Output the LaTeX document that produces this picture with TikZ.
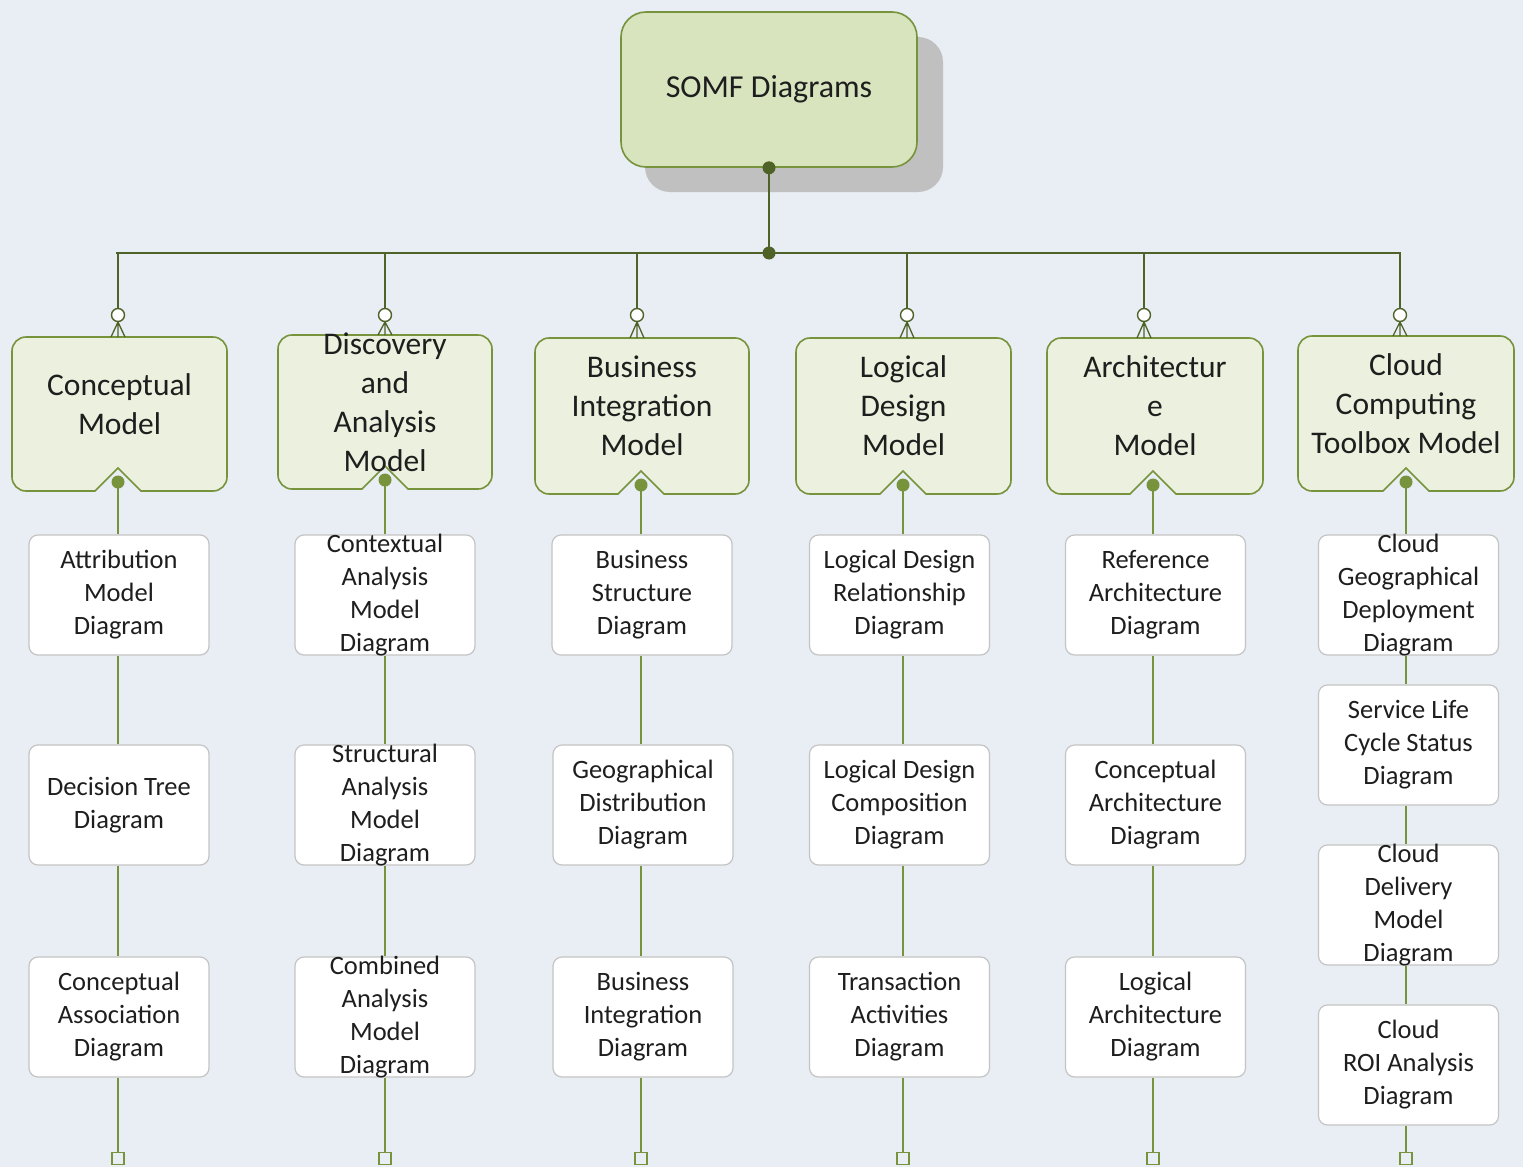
\documentclass[tikz,border=0pt]{standalone}
\usepackage{fontspec}
\setmainfont{Carlito}
\usetikzlibrary{calc}
\definecolor{bg}{HTML}{E9EDF4}
\definecolor{topfill}{HTML}{D7E4BD}
\definecolor{mfill}{HTML}{EBF1DE}
\definecolor{mgreen}{HTML}{77933C}
\definecolor{dkgreen}{HTML}{4F6228}
\definecolor{shadowc}{HTML}{C0C0C0}
\definecolor{dgray}{HTML}{C4C4C4}
\definecolor{txt}{HTML}{1E1E1E}
\newcommand\ModelBox[8]{%
  \path[mshape] (#7,#5-23) -- (#7-23,#5) [rounded corners=14pt] -- (#2,#5) -- (#2,#3) -- (#4,#3) -- (#4,#5) [sharp corners] -- (#7+23,#5) -- cycle;
  \node[mtext] (#1) at ({(#2+#4)/2},{(#3+#5)/2-10}) {#8};
  \coordinate (#1bar) at (#6,253);
  \coordinate (#1circ) at (#6,315);
  \coordinate (#1foot) at (#6,322);
  \coordinate (#1top) at (#6,#3);
  \coordinate (#1dot) at (#7,#5-9);
  \draw[topline] (#1bar) -- ($(#1circ)+(0,-6.5)$);
  \draw[topline,line width=1.3pt] (#1foot) -- ($(#1top)+(-7,0)$) (#1foot) -- (#1top) (#1foot) -- ($(#1top)+(7,0)$);
  \draw[topline,line width=1.4pt,fill=white] (#1circ) circle (6.5pt);
  \fill[mgreen] (#1dot) circle (6.5pt);
}
\begin{document}
\begin{tikzpicture}[x=1pt,y=-1pt,
  tx/.style={text=txt, align=center, inner sep=0pt},
  dbox/.style={draw=dgray, fill=white, rounded corners=9pt, minimum width=180pt, minimum height=120pt, line width=1.2pt, inner sep=0pt},
  dtext/.style={tx, font=\fontsize{26.5}{33}\selectfont},
  mtext/.style={tx, font=\fontsize{31.5}{39}\selectfont},
  mshape/.style={draw=mgreen, fill=mfill, line width=1.6pt},
  topline/.style={draw=dkgreen, line width=2pt},
  lowline/.style={draw=mgreen, line width=1.7pt},
  endsq/.style={draw=mgreen, fill=bg, minimum size=12pt, inner sep=0pt, line width=1.4pt},
]
\useasboundingbox[fill=bg] (0,0) rectangle (1523,1167);

% root
\fill[shadowc, rounded corners=25pt] (645,37) rectangle (943,192);
\node[draw=mgreen, fill=topfill, rounded corners=25pt, minimum width=296pt, minimum height=155pt, line width=1.6pt, font=\fontsize{32}{39}\selectfont, text=txt] (somf) at (769,89.5) {SOMF Diagrams};
\coordinate (hub) at (769,253);
\coordinate (barL) at (116,253);
\coordinate (barR) at (1401,253);
\draw[topline] (somf.south) -- (hub);
\draw[topline] (barL) -- (barR);
\fill[dkgreen] (somf.south) circle (6.5pt);
\fill[dkgreen] (hub) circle (6.5pt);

% model boxes
\ModelBox{m1}{12}{337}{227}{491}{118}{118}{Conceptual\\Model}
\ModelBox{m2}{278}{335}{492}{489}{385}{385}{Discovery\\and\\Analysis\\Model}
\ModelBox{m3}{535}{338}{749}{494}{637}{641}{Business\\Integration\\Model}
\ModelBox{m4}{796}{338}{1011}{494}{907}{903}{Logical\\Design\\Model}
\ModelBox{m5}{1047}{338}{1263}{494}{1144}{1153}{Architectur\\e\\Model}
\ModelBox{m6}{1298}{336}{1514}{491}{1400}{1406}{Cloud\\Computing\\Toolbox Model}

% column 1
\node[dbox] (c1a) at (119,595) {};
\node[dbox] (c1b) at (119,805) {};
\node[dbox] (c1c) at (119,1017) {};
\node[endsq] (s1) at (118,1158.5) {};
\draw[lowline] (m1dot) -- (m1dot |- c1a.north);
\draw[lowline] (m1dot |- c1a.south) -- (m1dot |- c1b.north);
\draw[lowline] (m1dot |- c1b.south) -- (m1dot |- c1c.north);
\draw[lowline] (m1dot |- c1c.south) -- (s1.north);
\node[dtext] (t1a) at (c1a) {Attribution\\Model\\Diagram};
\node[dtext] (t1b) at (c1b) {Decision Tree\\Diagram};
\node[dtext] (t1c) at (c1c) {Conceptual\\Association\\Diagram};

% column 2
\node[dbox] (c2a) at (385,595) {};
\node[dbox] (c2b) at (385,805) {};
\node[dbox] (c2c) at (385,1017) {};
\node[endsq] (s2) at (385,1158.5) {};
\draw[lowline] (m2dot) -- (m2dot |- c2a.north);
\draw[lowline] (m2dot |- c2a.south) -- (m2dot |- c2b.north);
\draw[lowline] (m2dot |- c2b.south) -- (m2dot |- c2c.north);
\draw[lowline] (m2dot |- c2c.south) -- (s2.north);
\node[dtext] (t2a) at (c2a) {Contextual\\Analysis\\Model\\Diagram};
\node[dtext] (t2b) at (c2b) {Structural\\Analysis\\Model\\Diagram};
\node[dtext] (t2c) at (c2c) {Combined\\Analysis\\Model\\Diagram};

% column 3
\node[dbox] (c3a) at (642,595) {};
\node[dbox] (c3b) at (643,805) {};
\node[dbox] (c3c) at (643,1017) {};
\node[endsq] (s3) at (641,1158.5) {};
\draw[lowline] (m3dot) -- (m3dot |- c3a.north);
\draw[lowline] (m3dot |- c3a.south) -- (m3dot |- c3b.north);
\draw[lowline] (m3dot |- c3b.south) -- (m3dot |- c3c.north);
\draw[lowline] (m3dot |- c3c.south) -- (s3.north);
\node[dtext] (t3a) at (c3a) {Business\\Structure\\Diagram};
\node[dtext] (t3b) at (c3b) {Geographical\\Distribution\\Diagram};
\node[dtext] (t3c) at (c3c) {Business\\Integration\\Diagram};

% column 4
\node[dbox] (c4a) at (899.5,595) {};
\node[dbox] (c4b) at (899.5,805) {};
\node[dbox] (c4c) at (899.5,1017) {};
\node[endsq] (s4) at (903,1158.5) {};
\draw[lowline] (m4dot) -- (m4dot |- c4a.north);
\draw[lowline] (m4dot |- c4a.south) -- (m4dot |- c4b.north);
\draw[lowline] (m4dot |- c4b.south) -- (m4dot |- c4c.north);
\draw[lowline] (m4dot |- c4c.south) -- (s4.north);
\node[dtext] (t4a) at (c4a) {Logical Design\\Relationship\\Diagram};
\node[dtext] (t4b) at (c4b) {Logical Design\\Composition\\Diagram};
\node[dtext] (t4c) at (c4c) {Transaction\\Activities\\Diagram};

% column 5
\node[dbox] (c5a) at (1155.5,595) {};
\node[dbox] (c5b) at (1155.5,805) {};
\node[dbox] (c5c) at (1155.5,1017) {};
\node[endsq] (s5) at (1153,1158.5) {};
\draw[lowline] (m5dot) -- (m5dot |- c5a.north);
\draw[lowline] (m5dot |- c5a.south) -- (m5dot |- c5b.north);
\draw[lowline] (m5dot |- c5b.south) -- (m5dot |- c5c.north);
\draw[lowline] (m5dot |- c5c.south) -- (s5.north);
\node[dtext] (t5a) at (c5a) {Reference\\Architecture\\Diagram};
\node[dtext] (t5b) at (c5b) {Conceptual\\Architecture\\Diagram};
\node[dtext] (t5c) at (c5c) {Logical\\Architecture\\Diagram};

% column 6
\node[dbox] (c6a) at (1408.5,595) {};
\node[dbox] (c6b) at (1408.5,745) {};
\node[dbox] (c6c) at (1408.5,905) {};
\node[dbox] (c6d) at (1408.5,1065) {};
\node[endsq] (s6) at (1406,1158.5) {};
\draw[lowline] (m6dot) -- (m6dot |- c6a.north);
\draw[lowline] (m6dot |- c6a.south) -- (m6dot |- c6b.north);
\draw[lowline] (m6dot |- c6b.south) -- (m6dot |- c6c.north);
\draw[lowline] (m6dot |- c6c.south) -- (m6dot |- c6d.north);
\draw[lowline] (m6dot |- c6d.south) -- (s6.north);
\node[dtext] (t6a) at (c6a) {Cloud\\Geographical\\Deployment\\Diagram};
\node[dtext] (t6b) at (c6b) {Service Life\\Cycle Status\\Diagram};
\node[dtext] (t6c) at (c6c) {Cloud\\Delivery\\Model\\Diagram};
\node[dtext] (t6d) at (c6d) {Cloud\\ROI Analysis\\Diagram};
\end{tikzpicture}
\end{document}
